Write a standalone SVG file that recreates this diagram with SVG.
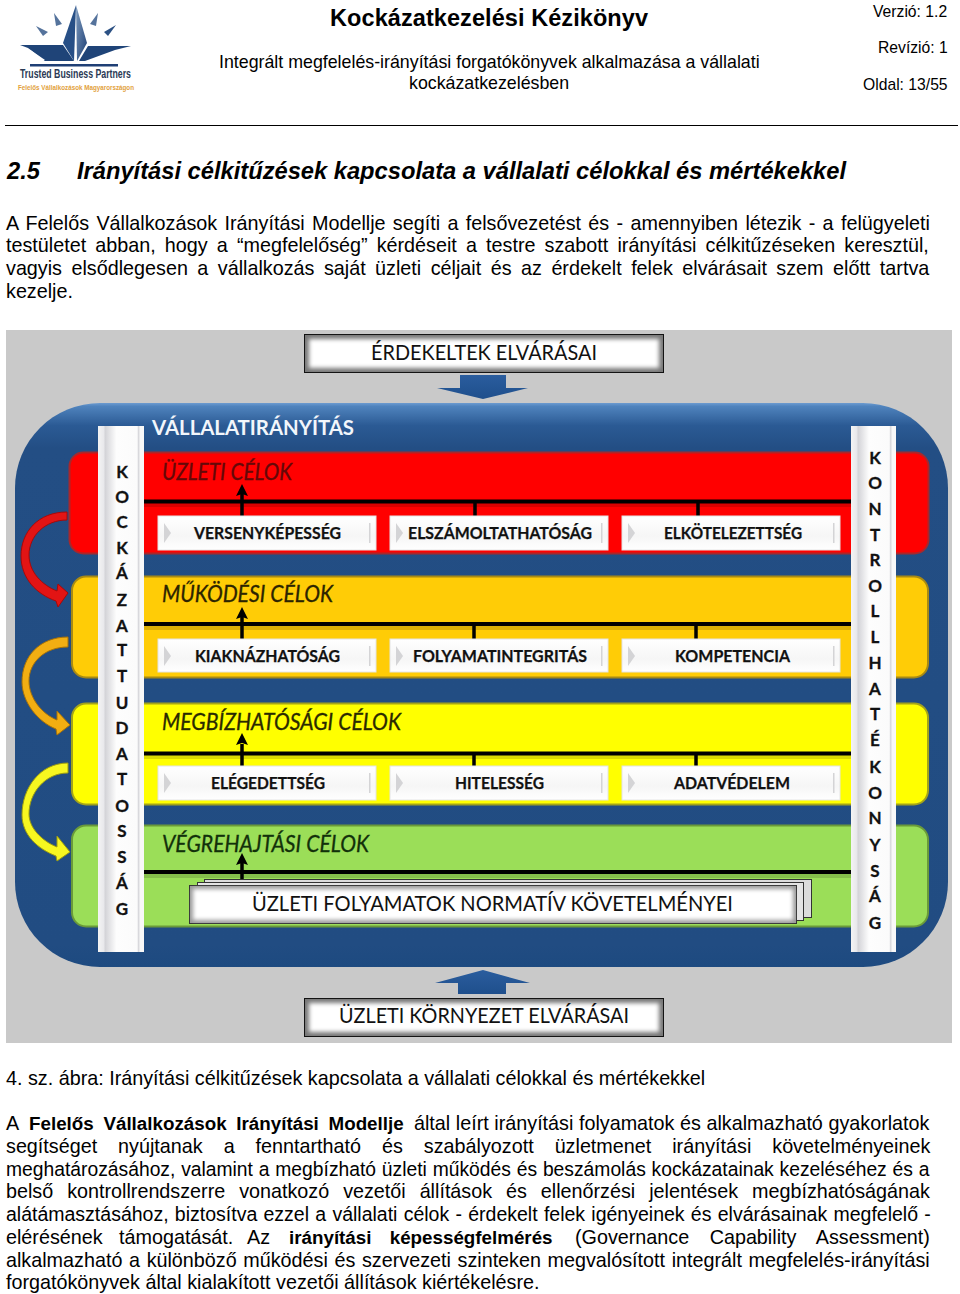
<svg xmlns="http://www.w3.org/2000/svg" width="960" height="1294" viewBox="0 0 960 1294">
<defs>
<linearGradient id="blue" x1="0" y1="0" x2="0" y2="1"><stop offset="0" stop-color="#6c9bd0"/><stop offset=".006" stop-color="#4f83bd"/><stop offset=".04" stop-color="#2b5a94"/><stop offset=".08" stop-color="#234e84"/><stop offset=".96" stop-color="#214c82"/><stop offset="1" stop-color="#1d4a80"/></linearGradient>
<linearGradient id="col" x1="0" y1="0" x2="1" y2="0"><stop offset="0" stop-color="#f4f4f4"/><stop offset=".12" stop-color="#e9e9ec"/><stop offset=".16" stop-color="#d4d4d8"/><stop offset=".4" stop-color="#fdfdfd"/><stop offset=".85" stop-color="#fbfbfb"/><stop offset=".88" stop-color="#d8d8dc"/><stop offset=".92" stop-color="#f8f8f8"/></linearGradient>
<linearGradient id="box" x1="0" y1="0" x2="0" y2="1"><stop offset="0" stop-color="#fff"/><stop offset=".6" stop-color="#f6f6f6"/><stop offset="1" stop-color="#fff"/></linearGradient>
<linearGradient id="aBlue" x1="0" y1="0" x2="0" y2="1"><stop offset="0" stop-color="#2a5d9e"/><stop offset="1" stop-color="#1f4f8c"/></linearGradient>
<linearGradient id="star1" x1="0" y1="0" x2="1" y2="1"><stop offset="0" stop-color="#7f9cbf"/><stop offset="1" stop-color="#1d3f74"/></linearGradient>
<filter id="soft" x="-5%" y="-20%" width="110%" height="140%"><feGaussianBlur stdDeviation="2"/></filter>
<style>
text{font-family:"Liberation Sans",Arial,sans-serif;fill:#000}
.b{font-size:19.76px}
.bb{font-size:18.8px;font-weight:700}
.s{font-size:17.8px}
.v{font-size:15.7px}
.dg{font-family:Lato,"Open Sans",sans-serif}
.lbl{font-family:Lato,"Open Sans",sans-serif;font-weight:700;font-size:17px;fill:#111;stroke:#111;stroke-width:.25}
.big{font-family:Lato,"Open Sans",sans-serif;font-size:22px;fill:#111}
.ttl{font-family:Lato,"Open Sans",sans-serif;font-style:italic;font-size:23px;stroke-width:.3}
.ltr{font-family:Lato,"Open Sans",sans-serif;font-weight:700;font-size:17px;text-anchor:middle;fill:#111;stroke:#111;stroke-width:.3}
.sb{fill:url(#box);stroke:#e4e4e4;stroke-width:1}
.tri{fill:#d4d4d6}
.ln{stroke:#000;stroke-width:4;fill:none}
.sh{fill:#000;opacity:.14}
.up{stroke:#000;stroke-width:3.5;fill:none}
.hd{fill:#000}
</style>
</defs>

<g id="logo">
<polygon points="76,5 63,43 74,61" fill="#274f86"/>
<polygon points="76,5 87,43 77,61" fill="url(#star1)"/>
<polygon points="20,45 63,45 74,61 45,61 28,48" fill="#1f4478"/>
<polygon points="131,46 88,46 79,61 85,61 115,50" fill="#1f4478"/>
<polygon points="29,49 45,60 36,60" fill="#fff"/>
<polygon points="54,13 62,24 56,26" fill="#55739c"/>
<polygon points="98,13 90,24 96,26" fill="#55739c"/>
<polygon points="36,26 48,32 43,36" fill="#55739c"/>
<polygon points="116,25 104,32 108,36" fill="#2c5184"/>
<rect x="30" y="64" width="88" height="2.500" fill="#1f3f75"/>
<text x="20" y="78" font-size="13" font-weight="700" textLength="111" lengthAdjust="spacingAndGlyphs" style="fill:#2b3a55">Trusted Business Partners</text>
<text x="18" y="90" font-size="7.500" font-weight="700" textLength="116" lengthAdjust="spacingAndGlyphs" style="fill:#e2a13c">Felelős Vállalkozások Magyarországon</text>
</g>

<g id="header">
<text x="330" y="26" font-size="23.500" font-weight="700" textLength="318">Kockázatkezelési Kézikönyv</text>
<text class="v" x="873" y="17">Verzió: 1.2</text>
<text class="v" x="878" y="53">Revízió: 1</text>
<text class="v" x="863" y="90">Oldal: 13/55</text>
<text class="s" x="219" y="68">Integrált megfelelés-irányítási forgatókönyvek alkalmazása a vállalati</text>
<text class="s" x="409" y="89">kockázatkezelésben</text>
<rect x="5" y="125" width="953" height="1" fill="#000"/>
</g>

<g id="section">
<text x="7" y="179" font-size="23.700" font-weight="700" font-style="italic">2.5</text>
<text x="77" y="179" font-size="23.700" font-weight="700" font-style="italic">Irányítási célkitűzések kapcsolata a vállalati célokkal és mértékekkel</text>
<text class="b" x="6" y="230" word-spacing="1.85">A Felelős Vállalkozások Irányítási Modellje segíti a felsővezetést és - amennyiben létezik - a felügyeleti</text>
<text class="b" x="6" y="252" word-spacing="3.65">testületet abban, hogy a “megfelelőség” kérdéseit a testre szabott irányítási célkitűzéseken keresztül,</text>
<text class="b" x="6" y="275" word-spacing="4">vagyis elsődlegesen a vállalkozás saját üzleti céljait és az érdekelt felek elvárásait szem előtt tartva</text>
<text class="b" x="6" y="298">kezelje.</text>
</g>

<g id="diagram">
<rect x="6" y="330" width="946" height="713" fill="#c9c9c9"/>
<g id="panel"><rect x="15" y="403" width="933" height="564" rx="85" fill="url(#blue)"/></g>

<g id="band-red"><rect x="69.500" y="452.500" width="859" height="101" rx="14" fill="#ff0000" stroke="#a8282c" stroke-width="2"/></g>
<g id="band-orange"><rect x="72" y="576.500" width="856" height="101" rx="14" fill="#ffcc06" stroke="#a88a14" stroke-width="2"/></g>
<g id="band-yellow"><rect x="72" y="703.500" width="856" height="101" rx="14" fill="#ffff00" stroke="#a3a31a" stroke-width="2"/></g>
<g id="band-green"><rect x="72" y="825.500" width="856" height="101" rx="14" fill="#9bde58" stroke="#6a9a3a" stroke-width="2"/></g>

<g id="connectors">
<rect class="sh" x="144" y="503" width="707" height="4"/><rect class="sh" x="144" y="626" width="707" height="4"/><rect class="sh" x="144" y="755" width="707" height="4"/><rect class="sh" x="144" y="874" width="707" height="4"/>
<path class="ln" d="M144 501.500H851M144 624H851M144 753.500H851M144 872H851"/>
<path class="up" d="M242 516V494M475 516V501M698 516V501M242 639V617M474 639V624M696 639V624M242 766V744M474 766V753M696 766V753M242 885V863"/>
<path class="hd" d="M242 484l6 12-6-2-6 2zM242 607l6 12-6-2-6 2zM242 733l6 12-6-2-6 2zM242 853l6 12-6-2-6 2z"/>
<path id="risk-1" d="M67,512 C38,512 21,532 21,556 C21,578 36,594 56,601 L58,607 L68,593 L58,584 L57,591 C42,585 29,572 29,555 C29,536 45,520 67,520 Z" fill="#e21414" stroke="#a80808"/>
<path id="risk-2" d="M68,637 C40,637 22,656 22,682 C22,702 38,722 56,729 L57,735 L70,725 L57,711 L57,720 C42,714 29,698 29,681 C29,662 45,647 68,647 Z" fill="#f2ae12" stroke="#a87208"/>
<path id="risk-3" d="M68,763 C40,763 22,788 22,815 C22,835 38,849 56,856 L57,861 L70,852 L57,836 L57,847 C42,841 29,828 29,814 C29,793 45,773 68,773 Z" fill="#f7f720" stroke="#9c9c10"/>
<polygon points="460,375 506,375 506,388 528,388 483,399 437,388 460,388" fill="url(#aBlue)"/>
<polygon points="483,970 530,983 506,983 506,994 458,994 458,983 435,983" fill="url(#aBlue)"/>
</g>

<g id="risk-column"><rect x="98" y="426" width="46" height="526" fill="url(#col)"/>
<text class="ltr"><tspan x="122" y="478">K</tspan><tspan x="122" y="503">O</tspan><tspan x="122" y="528">C</tspan><tspan x="122" y="554">K</tspan><tspan x="122" y="579">Á</tspan><tspan x="122" y="606">Z</tspan><tspan x="122" y="632">A</tspan><tspan x="122" y="656">T</tspan><tspan x="122" y="682">T</tspan><tspan x="122" y="709">U</tspan><tspan x="122" y="734">D</tspan><tspan x="122" y="760">A</tspan><tspan x="122" y="785">T</tspan><tspan x="122" y="812">O</tspan><tspan x="122" y="837">S</tspan><tspan x="122" y="863">S</tspan><tspan x="122" y="889">Á</tspan><tspan x="122" y="915">G</tspan></text></g>
<g id="control-column"><rect x="851" y="426" width="45" height="526" fill="url(#col)"/>
<text class="ltr"><tspan x="875" y="464">K</tspan><tspan x="875" y="489">O</tspan><tspan x="875" y="515">N</tspan><tspan x="875" y="541">T</tspan><tspan x="875" y="566">R</tspan><tspan x="875" y="592">O</tspan><tspan x="875" y="617">L</tspan><tspan x="875" y="643">L</tspan><tspan x="875" y="669">H</tspan><tspan x="875" y="695">A</tspan><tspan x="875" y="720">T</tspan><tspan x="875" y="746">É</tspan><tspan x="875" y="773">K</tspan><tspan x="875" y="799">O</tspan><tspan x="875" y="824">N</tspan><tspan x="875" y="851">Y</tspan><tspan x="875" y="877">S</tspan><tspan x="875" y="902">Á</tspan><tspan x="875" y="929">G</tspan></text></g>

<g id="stakeholders"><rect x="304.500" y="334.500" width="359" height="38" fill="#777" stroke="#111"/><rect x="309" y="339" width="350" height="29" fill="#fff" filter="url(#soft)"/>
<text class="big" x="371" y="360" textLength="226" lengthAdjust="spacingAndGlyphs">ÉRDEKELTEK ELVÁRÁSAI</text></g>
<g id="environment"><rect x="304.500" y="998.500" width="359" height="38" fill="#777" stroke="#111"/><rect x="309" y="1003" width="350" height="29" fill="#fff" filter="url(#soft)"/>
<text class="big" x="339" y="1023" textLength="290" lengthAdjust="spacingAndGlyphs">ÜZLETI KÖRNYEZET ELVÁRÁSAI</text></g>

<text class="dg" x="152" y="435" font-size="21" font-weight="700" textLength="202" lengthAdjust="spacingAndGlyphs" style="fill:#f2f6fb">VÁLLALATIRÁNYÍTÁS</text>
<text class="ttl" x="162" y="480" textLength="130" lengthAdjust="spacingAndGlyphs" style="fill:#650808;stroke:#650808">ÜZLETI CÉLOK</text>
<text class="ttl" x="162" y="602" textLength="171" lengthAdjust="spacingAndGlyphs" style="fill:#2c2400;stroke:#2c2400">MŰKÖDÉSI CÉLOK</text>
<text class="ttl" x="162" y="730" textLength="239" lengthAdjust="spacingAndGlyphs" style="fill:#2a2a00;stroke:#2a2a00">MEGBÍZHATÓSÁGI CÉLOK</text>
<text class="ttl" x="162" y="852" textLength="207" lengthAdjust="spacingAndGlyphs" style="fill:#12300a;stroke:#12300a">VÉGREHAJTÁSI CÉLOK</text>

<g id="n-versenykepesseg"><rect class="sb" x="158" y="516" width="218" height="34"/><path class="tri" d="M164 523l7 10-7 10z"/><rect class="tri" x="369" y="523" width="1.500" height="20"/><text class="lbl" x="194" y="539" textLength="147" lengthAdjust="spacingAndGlyphs">VERSENYKÉPESSÉG</text></g>
<g id="n-elszamoltathatosag"><rect class="sb" x="390" y="516" width="218" height="34"/><path class="tri" d="M396 523l7 10-7 10z"/><rect class="tri" x="601" y="523" width="1.500" height="20"/><text class="lbl" x="408" y="539" textLength="184" lengthAdjust="spacingAndGlyphs">ELSZÁMOLTATHATÓSÁG</text></g>
<g id="n-elkotelezettseg"><rect class="sb" x="622" y="516" width="218" height="34"/><path class="tri" d="M628 523l7 10-7 10z"/><rect class="tri" x="833" y="523" width="1.500" height="20"/><text class="lbl" x="664" y="539" textLength="138" lengthAdjust="spacingAndGlyphs">ELKÖTELEZETTSÉG</text></g>
<g id="n-kiaknazhatosag"><rect class="sb" x="158" y="639" width="218" height="33"/><path class="tri" d="M164 646l7 10-7 10z"/><rect class="tri" x="369" y="646" width="1.500" height="20"/><text class="lbl" x="195" y="662" textLength="145" lengthAdjust="spacingAndGlyphs">KIAKNÁZHATÓSÁG</text></g>
<g id="n-folyamatintegritas"><rect class="sb" x="390" y="639" width="218" height="33"/><path class="tri" d="M396 646l7 10-7 10z"/><rect class="tri" x="601" y="646" width="1.500" height="20"/><text class="lbl" x="413" y="662" textLength="174" lengthAdjust="spacingAndGlyphs">FOLYAMATINTEGRITÁS</text></g>
<g id="n-kompetencia"><rect class="sb" x="622" y="639" width="218" height="33"/><path class="tri" d="M628 646l7 10-7 10z"/><rect class="tri" x="833" y="646" width="1.500" height="20"/><text class="lbl" x="675" y="662" textLength="115" lengthAdjust="spacingAndGlyphs">KOMPETENCIA</text></g>
<g id="n-elegedettseg"><rect class="sb" x="158" y="766" width="218" height="34"/><path class="tri" d="M164 773l7 10-7 10z"/><rect class="tri" x="369" y="773" width="1.500" height="20"/><text class="lbl" x="211" y="789" textLength="114" lengthAdjust="spacingAndGlyphs">ELÉGEDETTSÉG</text></g>
<g id="n-hitelesseg"><rect class="sb" x="390" y="766" width="218" height="34"/><path class="tri" d="M396 773l7 10-7 10z"/><rect class="tri" x="601" y="773" width="1.500" height="20"/><text class="lbl" x="455" y="789" textLength="89" lengthAdjust="spacingAndGlyphs">HITELESSÉG</text></g>
<g id="n-adatvedelem"><rect class="sb" x="622" y="766" width="218" height="34"/><path class="tri" d="M628 773l7 10-7 10z"/><rect class="tri" x="833" y="773" width="1.500" height="20"/><text class="lbl" x="674" y="789" textLength="116" lengthAdjust="spacingAndGlyphs">ADATVÉDELEM</text></g>

<g id="n-normativ">
<rect x="204.500" y="879.500" width="607" height="38" fill="#dcdcdc" stroke="#333"/>
<rect x="197.500" y="882.500" width="606" height="38" fill="#e4e4e4" stroke="#333"/>
<rect x="189.500" y="885.500" width="607" height="38" fill="#999" stroke="#333"/>
<rect x="193" y="889" width="600" height="31" fill="#fff" filter="url(#soft)"/>
<text class="big" x="252" y="911" textLength="481" lengthAdjust="spacingAndGlyphs">ÜZLETI FOLYAMATOK NORMATÍV KÖVETELMÉNYEI</text>
</g>
</g>

<g id="caption-body">
<text class="b" x="6" y="1085">4. sz. ábra: Irányítási célkitűzések kapcsolata a vállalati célokkal és mértékekkel</text>
<text class="b" x="6" y="1130">A<tspan class="bb" x="29" word-spacing="4.5">Felelős Vállalkozások Irányítási Modellje</tspan><tspan x="414" word-spacing="0.1">által leírt irányítási folyamatok és alkalmazható gyakorlatok</tspan></text>
<text class="b" x="6" y="1153" word-spacing="15.5">segítséget nyújtanak a fenntartható és szabályozott üzletmenet irányítási követelményeinek</text>
<text class="b" x="6" y="1176" style="font-size:19.3px" word-spacing="0.45">meghatározásához, valamint a megbízható üzleti működés és beszámolás kockázatainak kezeléséhez és a</text>
<text class="b" x="6" y="1198" word-spacing="8.45">belső kontrollrendszerre vonatkozó vezetői állítások és ellenőrzési jelentések megbízhatóságának</text>
<text class="b" x="6" y="1221" style="font-size:19.5px" word-spacing="0.85">alátámasztásához, biztosítva ezzel a vállalati célok - érdekelt felek igényeinek és elvárásainak megfelelő -</text>
<text class="b" x="6" y="1244" word-spacing="11">elérésének támogatását.<tspan x="247">Az</tspan><tspan class="bb" x="289" word-spacing="13">irányítási képességfelmérés</tspan><tspan x="575" word-spacing="15">(Governance Capability Assessment)</tspan></text>
<text class="b" x="6" y="1267" word-spacing="1.15">alkalmazható a különböző működési és szervezeti szinteken megvalósított integrált megfelelés-irányítási</text>
<text class="b" x="6" y="1289">forgatókönyvek által kialakított vezetői állítások kiértékelésre.</text>
</g>
</svg>
